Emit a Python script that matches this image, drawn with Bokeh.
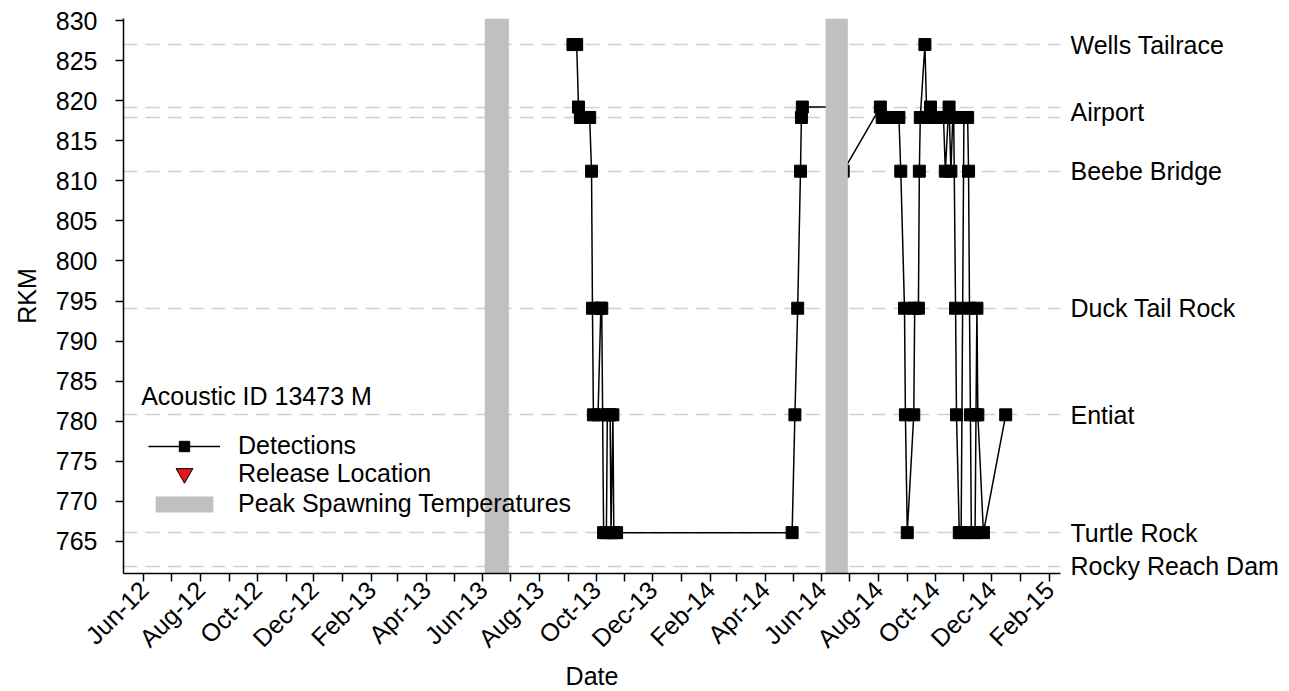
import math
from datetime import datetime
from bokeh.plotting import figure
from bokeh.models import (ColumnDataSource, FixedTicker, SingleIntervalTicker, LinearAxis,
                          Legend, LegendItem, Label, Range1d)
from bokeh.embed import file_html
from bokeh.resources import INLINE

FONT = "Liberation Sans"
FS = "25px"

# ---- data ----
line_rkm = [827.0, 819.2, 817.9, 811.2, 794.1, 780.8, 766.1, 761.9]
label_rkm = [827.0, 818.55, 811.2, 794.1, 780.8, 766.1, 761.9]
label_names = ["Wells Tailrace", "Airport", "Beebe Bridge", "Duck Tail Rock",
               "Entiat", "Turtle Rock", "Rocky Reach Dam"]

spawn_start = ["2013-06-03", "2014-06-05"]
spawn_end = ["2013-06-29", "2014-06-29"]

release_date = ["2012-05-01"]
release_rkm = [float("nan")]   # release point lies outside the plotted window

det_dates = [
    "2013-09-06", "2013-09-10", "2013-09-12", "2013-09-14", "2013-09-20", "2013-09-24",
    "2013-09-26", "2013-09-27", "2013-09-28", "2013-10-03", "2013-10-06", "2013-10-07",
    "2013-10-09", "2013-10-12", "2013-10-13", "2013-10-16", "2013-10-17", "2013-10-19",
    "2013-10-20", "2013-10-23",
    "2014-04-30", "2014-05-03", "2014-05-06", "2014-05-09", "2014-05-10", "2014-05-11",
    "2014-06-16", "2014-06-24",
    "2014-08-03", "2014-08-05", "2014-08-13", "2014-08-23", "2014-08-25", "2014-08-29",
    "2014-08-30", "2014-09-01", "2014-09-08", "2014-09-09", "2014-09-13", "2014-09-14",
    "2014-09-15", "2014-09-20", "2014-09-22", "2014-09-26", "2014-10-01", "2014-10-05",
    "2014-10-10", "2014-10-12", "2014-10-15", "2014-10-16", "2014-10-18", "2014-10-20",
    "2014-10-21", "2014-10-23", "2014-10-24", "2014-10-27", "2014-10-29", "2014-11-01",
    "2014-11-05", "2014-11-06", "2014-11-07", "2014-11-08", "2014-11-09", "2014-11-13",
    "2014-11-14", "2014-11-15", "2014-11-16", "2014-11-22", "2014-12-16",
]
det_rkm = [
    827.0, 827.0, 819.2, 817.9, 817.9, 817.9,
    811.2, 794.1, 780.8, 780.8, 794.1, 794.1,
    766.1, 766.1, 780.8, 780.8, 766.1, 780.8,
    766.1, 766.1,
    766.1, 780.8, 794.1, 811.2, 817.9, 819.2,
    819.2, 811.2,
    819.2, 817.9, 817.9, 817.9, 811.2, 794.1,
    780.8, 766.1, 780.8, 794.1, 794.1, 811.2,
    817.9, 827.0, 817.9, 819.2, 817.9, 817.9,
    817.9, 811.2, 817.9, 819.2, 811.2, 817.9,
    817.9, 794.1, 780.8, 766.1, 766.1, 817.9,
    817.9, 811.2, 794.1, 780.8, 766.1, 766.1,
    780.8, 794.1, 780.8, 766.1, 780.8,
]

Y_LO, Y_HI = 761.0, 830.25


def d(s):
    return datetime.strptime(s, "%Y-%m-%d")


det_src = ColumnDataSource(dict(x=[d(s) for s in det_dates], y=det_rkm))
spawn_src = ColumnDataSource(dict(left=[d(s) for s in spawn_start],
                                  right=[d(s) for s in spawn_end],
                                  bottom=[Y_LO] * len(spawn_start),
                                  top=[Y_HI] * len(spawn_start)))
rel_src = ColumnDataSource(dict(x=[d(s) for s in release_date], y=release_rkm))

p = figure(x_axis_type="datetime", output_backend="svg", toolbar_location=None,
           frame_width=937, frame_height=555,
           min_border_left=123, min_border_right=221, min_border_top=18, min_border_bottom=100,
           x_range=Range1d(datetime(2012, 5, 10), datetime(2015, 2, 13)),
           y_range=Range1d(Y_LO, Y_HI))
p.outline_line_color = None
p.xgrid.visible = False
p.ygrid.visible = False
p.background_fill_color = "white"
p.border_fill_color = "white"

# dashed site reference lines
p.hspan(y=line_rkm, line_color="#cfcfcf", line_width=1.5, line_dash="14 8")

# detections
det_line = p.line("x", "y", source=det_src, line_color="black", line_width=1.5)
det_pts = p.scatter("x", "y", source=det_src, marker="square", size=12,
                    fill_color="black", line_color="black")
rel = p.scatter("x", "y", source=rel_src, marker="inverted_triangle", size=17,
                fill_color="#e3161b", line_color="black", line_width=1)

# spawning bars (drawn on top)
spawn = p.quad(left="left", right="right", bottom="bottom", top="top", source=spawn_src,
               fill_color="#c0c0c0", line_color=None)

# axes
months = []
yy, mm = 2012, 6
while (yy, mm) <= (2015, 2):
    months.append(datetime(yy, mm, 1))
    mm += 1
    if mm > 12:
        mm = 1
        yy += 1
epoch = datetime(1970, 1, 1)
ticks = [(m - epoch).total_seconds() * 1000.0 for m in months]
overrides = {}
for i, (t, m) in enumerate(zip(ticks, months)):
    overrides[t] = m.strftime("%b-%y") if i % 2 == 0 else ""

xa = p.xaxis[0]
xa.ticker = FixedTicker(ticks=ticks, minor_ticks=[])
xa.major_label_overrides = overrides
xa.major_label_orientation = math.pi / 4
xa.axis_label = "Date"
ya = p.yaxis[0]
ya.ticker = SingleIntervalTicker(interval=5, num_minor_ticks=0)
ya.axis_label = "RKM"

for ax in (xa, ya):
    ax.axis_line_color = "black"
    ax.axis_line_width = 1.5
    ax.major_tick_line_color = "black"
    ax.major_tick_line_width = 1.5
    ax.major_tick_out = 8
    ax.major_tick_in = 0
    ax.minor_tick_line_color = None
    ax.major_label_text_font = FONT
    ax.major_label_text_font_size = FS
    ax.major_label_text_color = "black"
    ax.axis_label_text_font = FONT
    ax.axis_label_text_font_size = FS
    ax.axis_label_text_font_style = "normal"
    ax.axis_label_text_color = "black"
ya.major_label_standoff = 18
ya.axis_label_standoff = 12
xa.major_label_standoff = 4
xa.axis_label_standoff = -3

ra = LinearAxis(ticker=FixedTicker(ticks=label_rkm, minor_ticks=[]),
                major_label_overrides={v: n for v, n in zip(label_rkm, label_names)})
ra.axis_line_color = None
ra.major_tick_line_color = None
ra.minor_tick_line_color = None
ra.major_tick_out = 0
ra.major_tick_in = 0
ra.major_label_standoff = 10
ra.major_label_text_font = FONT
ra.major_label_text_font_size = FS
ra.major_label_text_color = "black"
p.add_layout(ra, "right")

# annotation text
p.add_layout(Label(x=datetime(2012, 5, 29), y=783.1, text="Acoustic ID 13473  M",
                   text_font=FONT, text_font_size=FS, text_baseline="middle",
                   text_color="black"))


def make_legend(label, renderers, glyph_h, loc):
    lg = Legend(items=[LegendItem(label=label, renderers=renderers)], location=loc)
    lg.label_text_font = FONT
    lg.label_text_font_size = FS
    lg.label_text_color = "black"
    lg.glyph_width = 72
    lg.glyph_height = glyph_h
    lg.label_height = 20
    lg.label_standoff = 18
    lg.spacing = 0
    lg.padding = 0
    lg.margin = 0
    lg.border_line_color = None
    lg.background_fill_alpha = 0
    p.add_layout(lg)


make_legend("Detections", [det_line, det_pts], 26, (25, 113))
make_legend("Release Location", [rel], 42, (25, 79))
make_legend("Peak Spawning Temperatures", [spawn], 20, (25, 55))

open("out.html", "w").write(file_html(p, INLINE))
